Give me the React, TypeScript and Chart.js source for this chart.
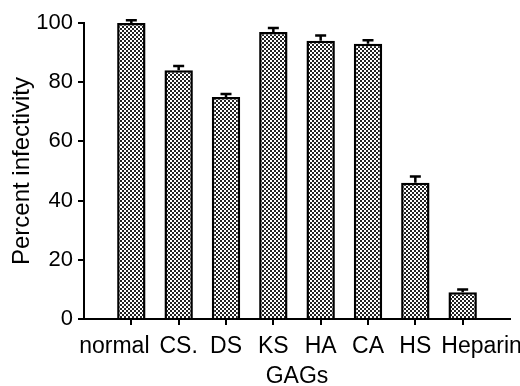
import React, { useEffect, useRef } from "react";
import { Chart, registerables } from "chart.js";

Chart.register(...registerables);

const categories = ["", "normal", "CS.", "DS", "KS", "HA", "CA", "HS", "Heparin", ""];
const infectivity = [null, 100, 84, 75, 97, 94, 93, 46, 9, null];
const errors = [null, 0.9, 1.5, 1.0, 1.3, 1.8, 1.2, 2.1, 1.0, null];
const yTicks = [0, 20, 40, 60, 80, 100];
const xTitle = "GAGs";
const yTitle = "Percent infectivity";

const FONT = "'Liberation Sans', Arial, Helvetica, sans-serif";
const LABEL_FONT = `23px ${FONT}`;
const LABEL_BASELINE = 353;
const LABEL_GAP = 10;

function makePattern(): CanvasPattern | string {
  const c = document.createElement("canvas");
  c.width = 4;
  c.height = 4;
  const g = c.getContext("2d");
  if (!g) return "#999";
  g.fillStyle = "#ffffff";
  g.fillRect(0, 0, 4, 4);
  g.fillStyle = "#222222";
  g.fillRect(0, 0, 2, 2);
  g.fillRect(2, 2, 2, 2);
  const p = g.createPattern(c, "repeat");
  return p || "#999";
}

const errorBarPlugin = {
  id: "errorBars",
  afterDatasetsDraw(chart: any) {
    const ctx = chart.ctx;
    const meta = chart.getDatasetMeta(0);
    const yScale = chart.scales.y;
    ctx.save();
    ctx.strokeStyle = "#000";
    ctx.lineWidth = 2.5;
    meta.data.forEach((bar: any, i: number) => {
      const v = infectivity[i];
      const e = errors[i];
      if (v == null || e == null) return;
      const x = bar.x;
      const yTop = yScale.getPixelForValue(v);
      const yErr = yScale.getPixelForValue(v + e);
      ctx.beginPath();
      ctx.moveTo(x, yTop);
      ctx.lineTo(x, yErr);
      ctx.moveTo(x - 5.5, yErr);
      ctx.lineTo(x + 5.5, yErr);
      ctx.stroke();
    });
    ctx.restore();
  },
};

// Draws the category labels under the x axis, nudging the outer labels apart
// so that they do not collide with their neighbours (as in the original figure).
const xLabelPlugin = {
  id: "xLabels",
  afterDraw(chart: any) {
    const ctx = chart.ctx;
    const xs = chart.scales.x;
    ctx.save();
    ctx.font = LABEL_FONT;
    ctx.fillStyle = "#000";
    ctx.textBaseline = "alphabetic";
    ctx.textAlign = "left";
    const items = categories
      .map((t, i) => ({ t, x: xs.getPixelForTick(i), w: t ? ctx.measureText(t).width : 0 }))
      .filter((d) => d.t);
    const lefts = items.map((d) => d.x - d.w / 2);
    // push first label left if overlapping the second
    if (items.length > 1) {
      const maxRight = lefts[1] - LABEL_GAP;
      if (lefts[0] + items[0].w > maxRight) lefts[0] = maxRight - items[0].w;
      const n = items.length - 1;
      const minLeft = lefts[n - 1] + items[n - 1].w + LABEL_GAP;
      if (lefts[n] < minLeft) lefts[n] = minLeft;
    }
    items.forEach((d, k) => ctx.fillText(d.t, lefts[k], LABEL_BASELINE));
    ctx.restore();
  },
};

export default function App() {
  const ref = useRef<HTMLCanvasElement | null>(null);
  useEffect(() => {
    if (!ref.current) return;
    const pattern = makePattern();
    const chart = new Chart(ref.current, {
      type: "bar",
      data: {
        labels: categories,
        datasets: [
          {
            data: infectivity as any,
            backgroundColor: pattern as any,
            borderColor: "#000",
            borderWidth: 2.5,
            categoryPercentage: 1,
            barPercentage: 0.6,
          },
        ],
      },
      options: {
        animation: false,
        responsive: false,
        devicePixelRatio: 1,
        layout: { padding: { top: 23, right: 10, left: 0, bottom: 0 } },
        plugins: { legend: { display: false }, tooltip: { enabled: false } },
        scales: {
          x: {
            offset: false,
            grid: {
              display: true,
              offset: false,
              drawOnChartArea: false,
              drawTicks: true,
              tickLength: 6,
              lineWidth: 2,
              color: "#000",
              tickColor: (c: any) =>
                c.index === 0 || c.index === categories.length - 1 ? "rgba(0,0,0,0)" : "#000",
            },
            border: { color: "#000", width: 2 },
            ticks: {
              display: false,
              autoSkip: false,
              maxRotation: 0,
              minRotation: 0,
            },
            title: {
              display: true,
              text: xTitle,
              color: "#000",
              font: { family: FONT, size: 23, lineHeight: 0.83 },
              padding: { top: 0, bottom: 0 },
            },
            afterFit: (s: any) => {
              s.height = 67;
            },
          },
          y: {
            min: 0,
            max: 100,
            afterBuildTicks: (s: any) => {
              s.ticks = yTicks.map((v) => ({ value: v }));
            },
            grid: {
              display: true,
              drawOnChartArea: false,
              drawTicks: true,
              tickLength: 6,
              lineWidth: 2,
              color: "#000",
            },
            border: { color: "#000", width: 2 },
            ticks: {
              color: "#000",
              padding: 5,
              font: { family: FONT, size: 22 },
            },
            title: {
              display: true,
              text: yTitle,
              color: "#000",
              font: { family: FONT, size: 24 },
              padding: { top: 8, bottom: 0 },
            },
            afterFit: (s: any) => {
              s.width = 84;
            },
          },
        },
      },
      plugins: [errorBarPlugin, xLabelPlugin],
    });
    return () => chart.destroy();
  }, []);
  return (
    <div style={{ position: "fixed", left: 0, top: 0, width: 520, height: 386, background: "#fff" }}>
      <canvas ref={ref} width={520} height={386} style={{ display: "block" }} />
    </div>
  );
}
